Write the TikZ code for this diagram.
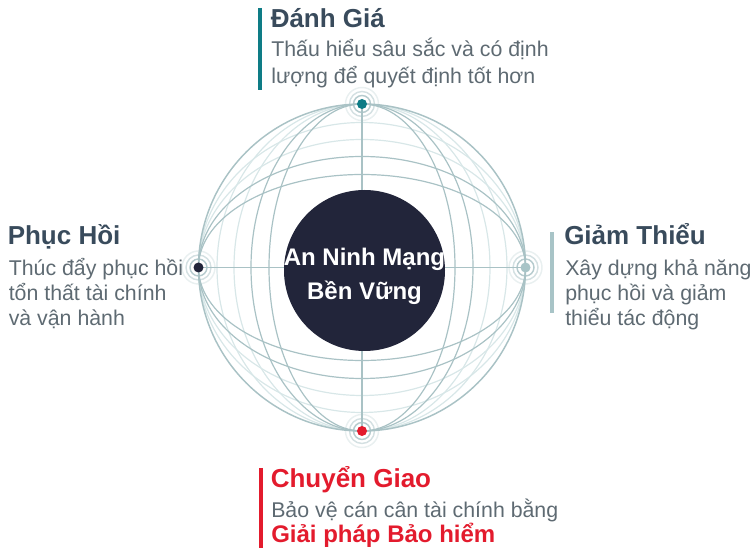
\documentclass[tikz,border=0pt]{standalone}
\usepackage{fontspec}
\setmainfont{Liberation Sans}
\usepackage{tikz}
\definecolor{RSTeal}{HTML}{0E7C86}
\definecolor{RSNavy}{HTML}{22253A}
\definecolor{RSRed}{HTML}{E31B2D}
\definecolor{RSMist}{HTML}{A8C4C7}
\definecolor{RSGrid}{HTML}{A9C2C5}
\definecolor{RSFaint}{HTML}{D8E7E8}
\definecolor{RSTitle}{HTML}{394B5C}
\definecolor{RSBody}{HTML}{5E6A72}

\begin{document}
\begin{tikzpicture}[x=0.75pt,y=-0.75pt,
  heading/.style={anchor=base west,inner sep=0pt,text=RSTitle,
    font=\fontsize{19.5}{23}\selectfont\bfseries},
  blurb/.style={anchor=base west,inner sep=0pt,align=left,text=RSBody,
    font=\fontsize{16}{18.75}\selectfont},
  gridline/.style={draw=RSGrid,line width=0.9pt},
  faintline/.style={draw=RSFaint,line width=0.9pt},
  sidebar/.style={line width=3pt}]
\path[use as bounding box] (0,0) rectangle (751,548);
% sphere
\coordinate (c) at (362,267.5);
\foreach \r in {128,145} {
  \draw[faintline] (c) ellipse [x radius=163.5,y radius=\r];
  \draw[faintline] (c) ellipse [x radius=\r,y radius=163.5];
}
\foreach \r in {93,111} {
  \draw[gridline] (c) ellipse [x radius=163.5,y radius=\r];
  \draw[gridline] (c) ellipse [x radius=\r,y radius=163.5];
}
\draw[gridline,line width=1.1pt] (c) circle [radius=163.5];
\coordinate (top) at (362,104);
\coordinate (bot) at (362,431);
\coordinate (west) at (198.5,267.5);
\coordinate (east) at (525.5,267.5);
\draw[gridline] (west) -- (east);
\draw[gridline] (top) -- (bot);
% core (base anchor sits under the last line)
\fill[RSNavy] (364.5,270.5) circle [radius=80.5];
\node[anchor=base,inner sep=0pt,align=center,text=white,
  font=\fontsize{18}{25.5}\selectfont\bfseries] (core) at (364.5,300)
  {An Ninh Mạng\\Bền Vững};
% dots
\foreach \p/\col in {top/RSTeal,west/RSNavy,east/RSMist,bot/RSRed} {
  \foreach \r/\o in {16.5/0.25,12.5/0.5,8.5/0.85}
    \draw[RSGrid,line width=1.1pt,opacity=\o] (\p) circle [radius=\r];
  \fill[\col] (\p) circle [radius=5];
}
% top
\draw[RSTeal,sidebar] (260,8) -- (260,90);
\node[heading] (danhgia) at (270.5,28) {Đánh Giá};
\node[blurb,font=\fontsize{16}{20.25}\selectfont] (danhgiatxt) at (271,84)
  {Thấu hiểu sâu sắc và có định\\lượng để quyết định tốt hơn};
% left
\node[heading] (phuchoi) at (7.5,245) {Phục Hồi};
\node[blurb] (phuchoitxt) at (8.5,326)
  {Thúc đẩy phục hồi\\tổn thất tài chính\\và vận hành};
% right
\draw[RSMist,sidebar] (551.5,232) -- (551.5,313);
\node[heading] (giamthieu) at (564,245) {Giảm Thiểu};
\node[blurb] (giamthieutxt) at (565,326)
  {Xây dựng khả năng\\phục hồi và giảm\\thiểu tác động};
% bottom
\draw[RSRed,sidebar] (260.5,468) -- (260.5,548);
\node[heading,text=RSRed] (chuyengiao) at (270.5,488) {Chuyển Giao};
\node[blurb] (chuyengiaotxt) at (271,518) {Bảo vệ cán cân tài chính bằng};
\node[anchor=base west,inner sep=0pt,text=RSRed,
  font=\fontsize{18}{20}\selectfont\bfseries] (baohiem) at (271,543)
  {Giải pháp Bảo hiểm};
\end{tikzpicture}
\end{document}
